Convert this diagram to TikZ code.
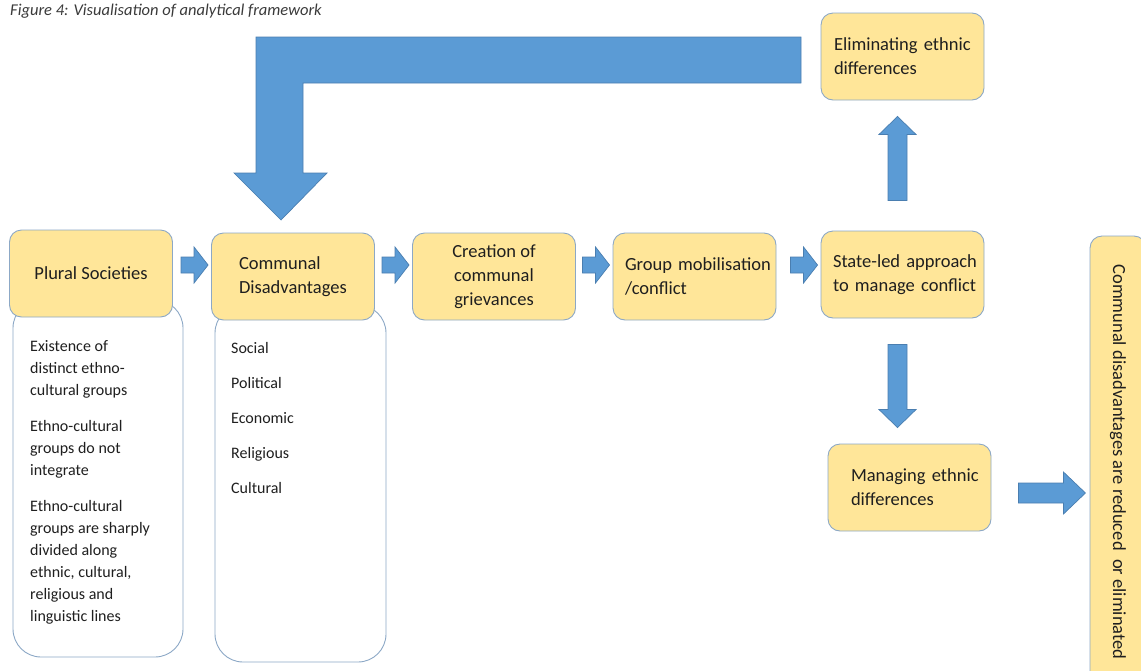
\documentclass[tikz,border=0pt]{standalone}
\usepackage{fontspec}
\setmainfont{Carlito}
\usetikzlibrary{calc}
\definecolor{yfill}{HTML}{FFE699}
\definecolor{bline}{HTML}{8CA8C6}
\definecolor{afill}{HTML}{5B9BD5}
\definecolor{aline}{HTML}{4A7EB0}
\definecolor{txt}{HTML}{1F1F1F}
\definecolor{ttl}{HTML}{3A3A3A}
% #1 tip point, #2 angle, #3 total length, #4 head length, #5 shaft half width, #6 head half width
\newcommand\blockarrow[6]{%
  \draw[blk, shift={#1}, rotate=#2] (-#3,-#5) -- (-#4,-#5) -- (-#4,-#6) -- (0,0) -- (-#4,#6) -- (-#4,#5) -- (-#3,#5) -- cycle;}
\begin{document}
\begin{tikzpicture}[x=1pt,y=-1pt,
  ybox/.style={draw=bline, line width=0.9pt, fill=yfill, rounded corners=12pt,
    minimum width=163pt, minimum height=87pt, inner sep=0pt,
    font=\fontsize{18.5}{24}\selectfont, text=txt},
  wbox/.style={draw=bline, line width=0.9pt, fill=white, rounded corners=28pt, inner sep=0pt},
  body/.style={font=\fontsize{16}{22}\selectfont, text=txt, align=left, inner sep=0pt, anchor=north west},
  blk/.style={fill=afill, draw=aline, line width=0.7pt}]
\useasboundingbox (0,0) rectangle (1141,670);

\node[anchor=base west, inner sep=0pt, font=\fontsize{16.5}{19}\selectfont\itshape, text=ttl] (title) at (10,15)
  {Figure 4: Visualisation of analytical framework};

% white boxes
\node[wbox, minimum width=170pt, minimum height=357pt] (w1) at (98,478.5) {};
\node[wbox, minimum width=171pt, minimum height=357pt] (w2) at (300.5,483.5) {};

\node[body] (w1t) at (30,340) {Existence of\\distinct ethno-\\cultural groups\\[14pt]
  Ethno-cultural\\groups do not\\integrate\\[14pt]
  Ethno-cultural\\groups are sharply\\divided along\\ethnic, cultural,\\religious and\\linguistic lines};
\node[body] (w2t) at (231,342.5) {Social\\[13pt]Political\\[13pt]Economic\\[13pt]Religious\\[13pt]Cultural};

% yellow boxes
\node[ybox, align=center] (ps) at (91,273.5) {Plural Societies};
\node[ybox, text width=108pt, align=left] (cd) at (293,276.5) {\mbox{Communal}\\\mbox{Disadvantages}};
\node[ybox, align=center] (cg) at (494,276.5) {Creation of\\communal\\grievances};
\node[ybox, text width=139pt, align=left] (gm) at (694.5,276.5) {\mbox{Group mobilisation}\\\mbox{/conflict}};
\node[ybox, text width=139pt, align=left] (sl) at (902.5,274.5) {\mbox{State-led approach}\\\mbox{to manage conflict}};
\node[ybox, text width=137pt, align=left] (el) at (902.5,56.5) {\mbox{Eliminating ethnic}\\\mbox{differences}};
\node[ybox, text width=117pt, align=left] (me) at (909.5,487.5) {\mbox{Managing ethnic}\\\mbox{differences}};
\node[ybox, rotate=-90, minimum width=452pt, minimum height=56pt] (cr) at (1118,462)
  {Communal disadvantages are reduced\ \ or eliminated};

% block arrows
\coordinate (row) at (0,265);
\blockarrow{($(cd.west|-row)+(-3,0)$)}{0}{27}{14}{8}{18}
\blockarrow{($(cg.west|-row)+(-3,0)$)}{0}{27}{14}{8}{18}
\blockarrow{($(gm.west|-row)+(-3,0)$)}{0}{27}{14}{8}{18}
\blockarrow{($(sl.west|-row)+(-3,0)$)}{0}{27}{14}{8}{18}
\blockarrow{($(el.south)+(-5,16)$)}{90}{84}{18}{9.5}{18.5}
\blockarrow{($(me.north)+(-12,-16)$)}{-90}{83}{18}{9.5}{18.5}
\coordinate (crin) at ($(me.east)+(94,5.5)$);
\blockarrow{(crin)}{0}{67}{22}{10}{21}

% bent feedback arrow
\draw[blk] (801,37) -- (256,37) -- (256,173) -- (234,173) -- (281,220) -- (327,173)
  -- (303,173) -- (303,83) -- (801,83) -- cycle;
\end{tikzpicture}
\end{document}
